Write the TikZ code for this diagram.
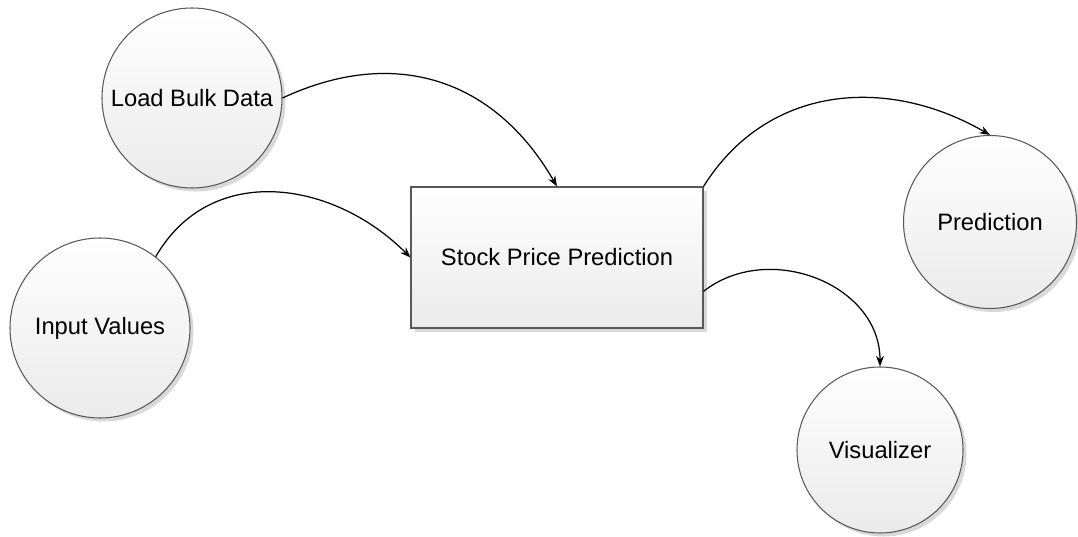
\documentclass[tikz,border=0pt]{standalone}
\usepackage{fontspec}
\setmainfont{Liberation Sans}
\usetikzlibrary{arrows.meta,shadows}
\begin{document}
\begin{tikzpicture}[
    bubble/.style={circle,draw=black!65,line width=0.6pt,top color=white,bottom color=black!8,
      drop shadow={shadow xshift=2pt,shadow yshift=-2pt,fill=black!25,opacity=0.6},
      inner sep=0pt,font=\fontsize{13.5}{16}\selectfont},
    proc/.style={rectangle,draw=black!65,line width=0.6pt,top color=white,bottom color=black!8,
      drop shadow={shadow xshift=2pt,shadow yshift=-2pt,fill=black!25,opacity=0.6},
      minimum width=5.84cm,minimum height=2.82cm,font=\fontsize{13.5}{16}\selectfont},
    flow/.style={line width=0.7pt,-{Stealth[length=6pt,width=4.5pt]}}]
                \useasboundingbox (0,0) rectangle (21.56,10.74);
                \path (3.84,8.78) node[bubble,minimum size=3.6cm] (L) {Load Bulk Data};
                \path (2.0,4.18) node[bubble,minimum size=3.6cm] (I) {Input Values};
                \path (11.14,5.59) node[proc] (S) {Stock Price Prediction};
                \path (19.8,6.3) node[bubble,minimum size=3.46cm] (P) {Prediction};
                \path (17.6,1.74) node[bubble,minimum size=3.32cm] (V) {Visualizer};
            
                \draw[flow] (L.east) to[out=25,in=120,looseness=1.1] (S.north);
                \draw[flow] (I.52) to[out=60,in=135,looseness=1.1] (S.west);
                \draw[flow] (S.north east) to[out=58,in=150,looseness=1.05] (P.north);
                \draw[flow] (S.-13.7) to[out=38,in=90,looseness=1.1] (V.north);
              \end{tikzpicture}
\end{document}
